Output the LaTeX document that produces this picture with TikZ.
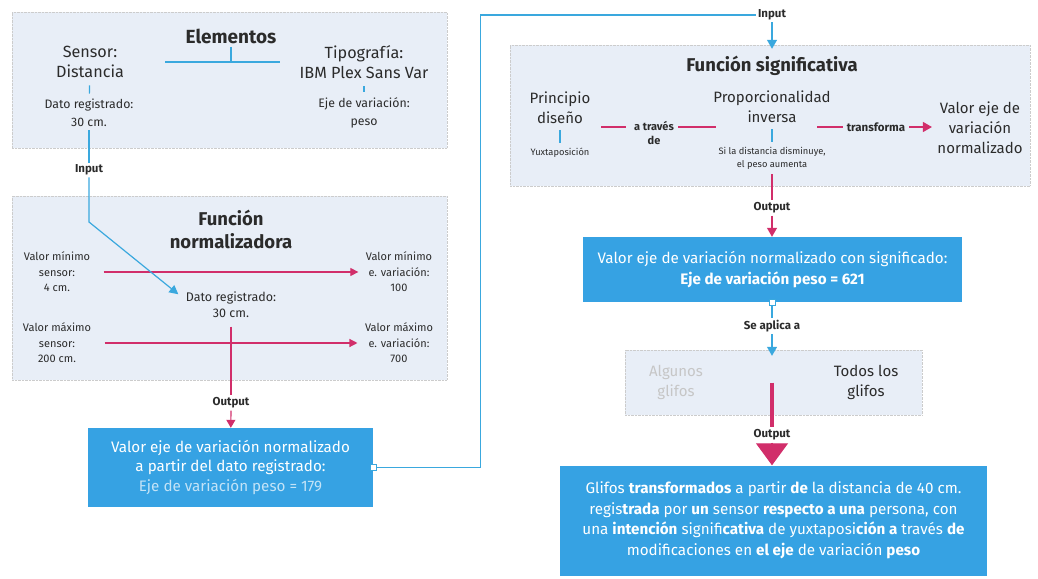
\documentclass[tikz,border=0pt]{standalone}
\usepackage{fontspec}
\setmainfont{Fira Sans}
\usetikzlibrary{shapes, positioning, arrows.meta}
\definecolor{panelbg}{HTML}{E8EEF7}
\definecolor{boxblue}{HTML}{36A2E3}
\definecolor{lineblue}{HTML}{3AA8DE}
\definecolor{pinkline}{HTML}{D12E6A}
\definecolor{txt}{HTML}{2B2B2B}

\begin{document}
\begin{tikzpicture}[
          x=1pt, y=-1pt,
          panel/.style={fill=panelbg, draw=gray!40, densely dotted, inner sep=0pt},
          result/.style={fill=boxblue, text=white, align=center, inner sep=0pt,
            font=\fontsize{15.2}{19.5}\selectfont},
          title/.style={font=\fontsize{18.5}{23}\selectfont\bfseries, text=txt, align=center},
          big/.style={font=\fontsize{15}{20}\selectfont, text=txt, align=center},
          small/.style={font=\fontsize{11}{15.5}\selectfont, text=txt, align=center},
          tiny/.style={font=\fontsize{9.3}{13}\selectfont, text=txt, align=center},
          tag/.style={font=\fontsize{11.5}{13}\selectfont\bfseries, text=txt, align=center, inner sep=2pt},
          handle/.style={draw=lineblue, fill=white, minimum size=6pt, inner sep=0pt},
          bline/.style={lineblue, line width=1.2pt},
          pline/.style={pinkline, line width=1.2pt},
          tick/.style={bline, shorten <=4pt, shorten >=2pt}
        ]
        \useasboundingbox (0,0) rectangle (1038,578);

        % left column
        \node[panel, minimum width=435pt, minimum height=136pt] (elem) at (229.5,80) {};
        \node[title, font=\fontsize{19}{23}\selectfont\bfseries] (elemtitle) at (231,36) {Elementos};
        \node[big, font=\fontsize{16.2}{20}\selectfont] (sensor) at (90,62) {Sensor:\\Distancia};
        \node[big, font=\fontsize{16.2}{20}\selectfont] (tipo) at (364,62) {Tipografía:\\IBM Plex Sans Var};
        \node[small, font=\fontsize{12.3}{18}\selectfont] (dato1) at (89,113) {Dato registrado:\\30 cm.};
        \node[small, font=\fontsize{12.3}{18}\selectfont] (eje) at (364,113) {Eje de variación:\\peso};
        \coordinate (hl) at (165,62);
        \coordinate (hr) at (280,62);
        \draw[bline] (hl) -- (hr);
        \draw[bline] (elemtitle.south) -- (elemtitle.south |- hl);
        \draw[tick] (sensor) -- (dato1);
        \draw[tick] (tipo) -- (eje);

        \node[tag] (in1) at (89,170) {Input};

        \node[panel, minimum width=435pt, minimum height=184pt] (norm) at (229.5,288) {};
        \node[title] (normtitle) at (231,229.5) {Función\\normalizadora};
        \node[small] (mins) at (57,272) {Valor mínimo\\sensor:\\4 cm.};
        \node[small] (mine) at (399,272) {Valor mínimo\\e. variación:\\100};
        \node[small] (maxs) at (57,343) {Valor máximo\\sensor:\\200 cm.};
        \node[small] (maxe) at (399,343) {Valor máximo\\e. variación:\\700};
        \node[small, font=\fontsize{12.5}{15.5}\selectfont] (daton) at (231,304.5) {Dato registrado:\\30 cm.};
        \draw[pline, -{Triangle[length=8pt, width=8pt]}, shorten <=10pt, shorten >=4pt] (mins) -- (mine);
        \draw[pline, -{Triangle[length=8pt, width=8pt]}, shorten <=10pt, shorten >=4pt] (maxs) -- (maxe);
        \draw[bline] (dato1) -- (in1);
        \draw[bline, -{Triangle[length=9pt, width=9pt]}] (in1) -- (89,222) -- ([xshift=-4pt, yshift=-6pt]daton.north west);

        \node[tag] (out1) at (231,403) {Output};
        \draw[pline, shorten <=6pt] (daton) -- (out1);

        \node[result, minimum width=285pt, minimum height=79pt] (res1) at (230.5,467.5)
          {Valor eje de variación normalizado\\a partir del dato registrado:\\{\color{white!70!boxblue}Eje de variación peso = 179}};
        \draw[pline, -{Triangle[length=8pt, width=9pt]}] (out1) -- (res1);

        % right column
        \node[tag] (in2) at (772,15) {Input};
        \draw[bline] (res1.east) -- ++(107,0) |- (in2.west);
        \node[handle] at (res1.east) {};

        \node[panel, minimum width=520pt, minimum height=141pt] (sig) at (770,115.5) {};
        \draw[bline, -{Triangle[length=9pt, width=10pt]}, shorten >=-4pt] (in2) -- (sig.north -| in2);
        \node[title] (sigtitle) at (772,66) {Función significativa};
        \node[big] (prin) at (560,107.5) {Principio\\diseño};
        \node[tiny] (yux) at (560,153) {Yuxtaposición};
        \node[big] (prop) at (772,107) {Proporcionalidad\\inversa};
        \node[tiny] (sidist) at (772,158.5) {Si la distancia disminuye,\\el peso aumenta};
        \node[tag, font=\fontsize{11}{14}\selectfont\bfseries, anchor=north] (atraves) at (654,119) {a través\\de};
        \node[tag] (transf) at (876,127) {transforma};
        \node[big] (valor) at (980,128) {Valor eje de\\variación\\normalizado};
        \draw[tick, shorten <=3pt] (prin) -- (yux);
        \draw[tick, shorten <=3pt] (prop) -- (sidist);
        \draw[pline] ([yshift=-8pt, xshift=-6pt]atraves.north west) -- ++(-25,0);
        \draw[pline] ([yshift=-8pt, xshift=2pt]atraves.north east) -- ++(38,0);
        \draw[pline] ([xshift=-2pt]transf.west) -- ++(-26,0);
        \draw[pline, -{Triangle[length=9pt, width=10pt]}] ([xshift=2pt]transf.east) -- ([xshift=-2pt]valor.west |- transf.east);

        \node[tag] (out2) at (772,208) {Output};
        \draw[pline, shorten <=-12pt] (sig.south -| out2) -- (out2);
        \node[result, minimum width=379pt, minimum height=65pt, font=\fontsize{15.2}{21}\selectfont] (res2) at (772.5,269.5)
          {Valor eje de variación normalizado con significado:\\\textbf{Eje de variación peso = 621}};
        \draw[pline, -{Triangle[length=9pt, width=10pt]}] (out2) -- (res2.north -| out2);

        \node[tag] (apl) at (772,326) {Se aplica a};
        \node[panel, minimum width=297pt, minimum height=65pt] (glyph) at (773.5,382.5) {};
        \draw[bline] (res2.south -| apl) -- (apl);
        \node[handle] at (res2.south -| apl) {};
        \draw[bline, -{Triangle[length=9pt, width=10pt]}, shorten >=-6pt] (apl) -- (glyph.north -| apl);
        \node[big, text=gray!45] (algunos) at (676,382) {Algunos\\glifos};
        \node[big] (todos) at (866,382) {Todos los\\glifos};

        \node[tag] (out3) at (772,435) {Output};
        \draw[pline, line width=4pt] (glyph.center -| out3) -- (out3);
        \node[result, minimum width=427pt, minimum height=110pt, font=\fontsize{15.2}{20.5}\selectfont] (res3) at (773.5,520.5)
          {Glifos \textbf{transformados} a partir \textbf{de} la distancia de 40 cm.\\
           regis\textbf{trada} por \textbf{un} sensor \textbf{respecto a una} persona, con\\
           una \textbf{intención} signifi\textbf{cativa} de yuxtaposi\textbf{ción a} través \textbf{de}\\
           modificaciones en \textbf{el eje} de variación \textbf{peso}};
        \draw[pline, -{Triangle[length=22pt, width=32pt]}] (out3) -- (res3.north -| out3);
        \end{tikzpicture}
\end{document}
